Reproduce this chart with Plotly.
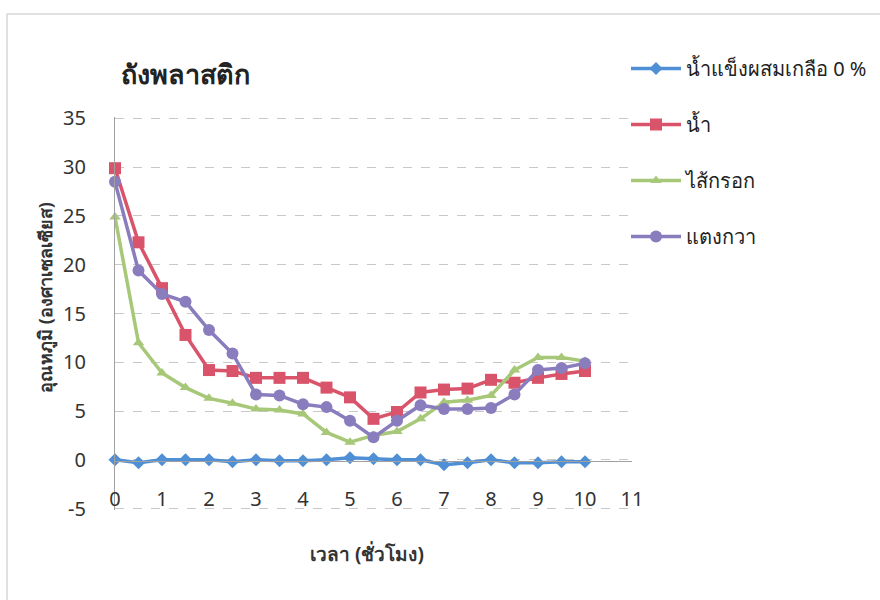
import plotly.graph_objects as go

hours = [0, 0.5, 1, 1.5, 2, 2.5, 3, 3.5, 4, 4.5, 5, 5.5, 6, 6.5, 7, 7.5, 8, 8.5, 9, 9.5, 10]
ice_salt_0 = [0, -0.3, 0, 0, 0, -0.2, 0, -0.1, -0.1, 0, 0.2, 0.1, 0, 0, -0.5, -0.3, 0, -0.3, -0.3, -0.2, -0.2]
water = [29.9, 22.3, 17.6, 12.8, 9.2, 9.1, 8.4, 8.4, 8.4, 7.4, 6.4, 4.2, 4.9, 6.9, 7.2, 7.3, 8.2, 7.9, 8.4, 8.8, 9.1]
sausage = [24.9, 12.0, 8.9, 7.4, 6.3, 5.8, 5.2, 5.1, 4.7, 2.8, 1.8, 2.5, 2.9, 4.2, 5.9, 6.1, 6.6, 9.2, 10.5, 10.5, 10.1]
cucumber = [28.5, 19.4, 17.0, 16.2, 13.3, 10.9, 6.7, 6.6, 5.7, 5.4, 4.0, 2.3, 4.0, 5.6, 5.2, 5.2, 5.3, 6.7, 9.2, 9.4, 9.9]

names = ["น้ำแข็งผสมเกลือ 0 %", "น้ำ", "ไส้กรอก", "แตงกวา"]
x_ticks = list(range(0, 12))
y_ticks = list(range(-5, 36, 5))

series = [ice_salt_0, water, sausage, cucumber]
colors = ["#4F8FD6", "#D9546A", "#A6C878", "#8A7DBE"]
symbols = ["diamond", "square", "triangle-up", "circle"]
sizes = [10, 12, 10, 12]

FONT = "Noto Sans, Open Sans, sans-serif"

# plot area in pixels
L, R, T, B = 115, 632, 117, 510
PW, PH = R - L, B - T

fig = go.Figure()
for i, (name, vals) in enumerate(zip(names, series)):
    fig.add_trace(go.Scatter(
        x=hours, y=vals, name=name, mode="lines+markers",
        line=dict(color=colors[i], width=3.5),
        marker=dict(symbol=symbols[i], size=sizes[i], color=colors[i]),
        cliponaxis=False, legendgroup=f"g{i}",
    ))

fig.update_layout(
    width=880, height=600,
    paper_bgcolor="white", plot_bgcolor="white",
    margin=dict(l=L, r=880 - R, t=T, b=600 - B, autoexpand=False),
    font=dict(family=FONT, color="#333333"),
    title=dict(text="<b>ถังพลาสติก</b>", x=121/880, xanchor="left",
               y=1 - 75/600, yanchor="middle",
               font=dict(size=27, color="#222222")),
    legend=dict(x=1 - 6/PW, xanchor="left", y=1 + 68/PH, yanchor="top",
                font=dict(size=20, color="#222222"),
                tracegroupgap=27, itemwidth=50, bgcolor="rgba(0,0,0,0)"),
    showlegend=True,
)

fig.update_xaxes(
    range=[0, 11], tickvals=x_ticks, ticktext=[str(v) for v in x_ticks],
    showgrid=False, zeroline=False, showline=True, linecolor="#A0A0A0", linewidth=1,
    anchor="free", position=5/40,
    ticks="outside", ticklen=20, tickcolor="rgba(0,0,0,0)",
    tickfont=dict(size=20, color="#333333"),
)
fig.update_yaxes(
    range=[-5.15, 35.15], tickvals=y_ticks, ticktext=[str(v) for v in y_ticks],
    showgrid=True, gridcolor="#C8C8C8", griddash="dash", gridwidth=1,
    zeroline=False, showline=True, linecolor="#A0A0A0", linewidth=1,
    ticks="outside", ticklen=24, tickcolor="rgba(0,0,0,0)",
    tickfont=dict(size=20, color="#333333"),
)

fig.add_annotation(text="<b>เวลา (ชั่วโมง)</b>", showarrow=False,
                   xref="paper", yref="paper", x=(367 - L)/PW, y=(B - 554)/PH,
                   xanchor="center", yanchor="middle",
                   font=dict(size=19, color="#333333"))
fig.add_annotation(text="<b>อุณหภูมิ (องศาเซลเซียส)</b>", showarrow=False, textangle=-90,
                   xref="paper", yref="paper", x=(45 - L)/PW, y=(B - 298)/PH,
                   xanchor="center", yanchor="middle",
                   font=dict(size=18, color="#333333"))

fig.add_shape(type="rect", xref="paper", yref="paper",
              x0=(7 - L)/PW, x1=(900 - L)/PW, y0=(B - 620)/PH, y1=(B - 14)/PH,
              line=dict(color="#D8D8D8", width=1.5), layer="below")

fig.write_html("out.html", config={"displayModeBar": False},
               post_script="document.body.style.margin='0';")
